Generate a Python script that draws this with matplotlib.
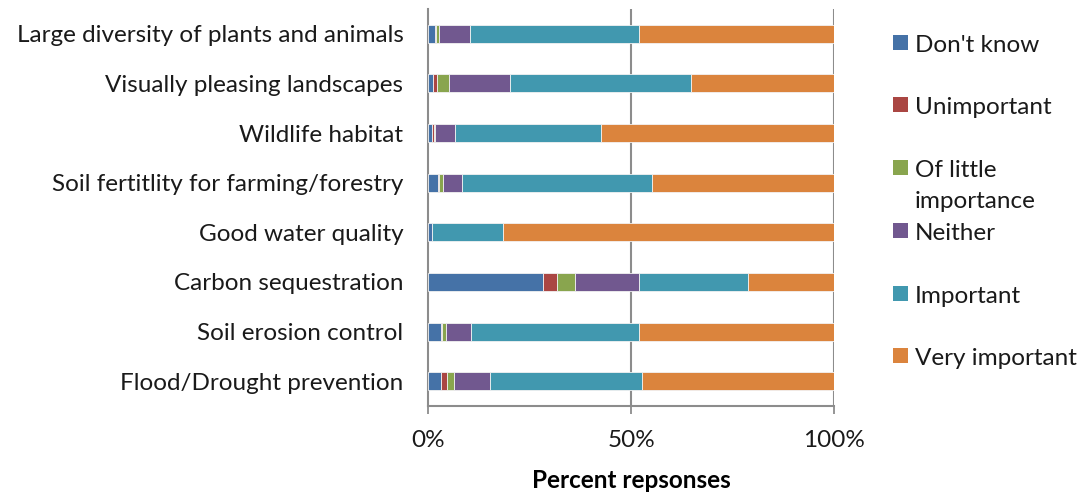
import matplotlib.pyplot as plt
from matplotlib.patches import Rectangle
import numpy as np

plt.rcParams['font.family'] = ['Lato', 'DejaVu Sans']

# categories listed bottom to top
categories = ['Flood/Drought prevention', 'Soil erosion control', 'Carbon sequestration',
              'Good water quality', 'Soil fertitlity for farming/forestry', 'Wildlife habitat',
              'Visually pleasing landscapes', 'Large diversity of plants and animals']

dont_know = [3.2, 3.1, 28.3, 0.9, 2.3, 0.9, 1.2, 1.6]
unimportant = [1.4, 0.3, 3.4, 0.0, 0.3, 0.5, 0.9, 0.3]
little = [1.8, 1.0, 4.5, 0.0, 1.1, 0.3, 2.9, 0.7]
neither = [8.9, 6.0, 15.8, 0.0, 4.7, 4.9, 15.1, 7.7]
important = [37.4, 41.5, 26.8, 17.6, 46.8, 36.0, 44.7, 41.7]
very_important = [47.3, 48.1, 21.2, 81.5, 44.8, 57.4, 35.2, 48.0]

series = [("Don't know", dont_know, '#4572A7'),
          ('Unimportant', unimportant, '#AA4643'),
          ('Of little\nimportance', little, '#89A54E'),
          ('Neither', neither, '#71588F'),
          ('Important', important, '#4198AF'),
          ('Very important', very_important, '#DB843D')]

FS = 17.5
W, H = 1086, 494

fig = plt.figure(figsize=(W / 100, H / 100), dpi=100)
ax = fig.add_axes([0.3945, 0.178, 0.3735, 0.804])

y = np.arange(len(categories))
left = np.zeros(len(categories))
for name, vals, col in series:
    vals = np.array(vals)
    ax.barh(y, vals, left=left, height=0.36, color=col,
            edgecolor='#f2f2f2', linewidth=0.6, zorder=3)
    left += vals

ax.set_xlim(0, 100)
ax.set_ylim(-0.5, len(categories) - 0.5)
ax.set_yticks(y)
ax.set_yticklabels(categories, fontsize=FS, color='#1a1a1a')
ax.set_xticks([0, 50, 100])
ax.set_xticklabels(['0%', '50%', '100%'], fontsize=FS, color='#1a1a1a')
ax.tick_params(axis='y', length=0, pad=18)
ax.tick_params(axis='x', length=6, width=1.3, color='#8c8c8c', pad=11)
ax.set_xlabel('Percent repsonses', fontsize=FS, fontweight='bold', labelpad=13)

for x in [50, 100]:
    ax.axvline(x, color='#8c8c8c', linewidth=1.5, zorder=1)

for s in ['top', 'right']:
    ax.spines[s].set_visible(False)
for s in ['left', 'bottom']:
    ax.spines[s].set_color('#8c8c8c')
    ax.spines[s].set_linewidth(1.5)

# legend: evenly spaced rows, square next to the first text line,
# wrapped labels run on below
for i, (name, vals, col) in enumerate(series):
    base = 51.7 + 62.7 * i
    fig.patches.append(Rectangle((893 / W, 1 - (base - 2) / H), 15 / W, 15 / H,
                                 transform=fig.transFigure, facecolor=col,
                                 edgecolor='none'))
    for j, line in enumerate(name.split('\n')):
        fig.text(915 / W, 1 - (base + 31.3 * j) / H, line, fontsize=FS,
                 color='#1a1a1a', ha='left', va='baseline')

fig.savefig('out.png', dpi=100)
